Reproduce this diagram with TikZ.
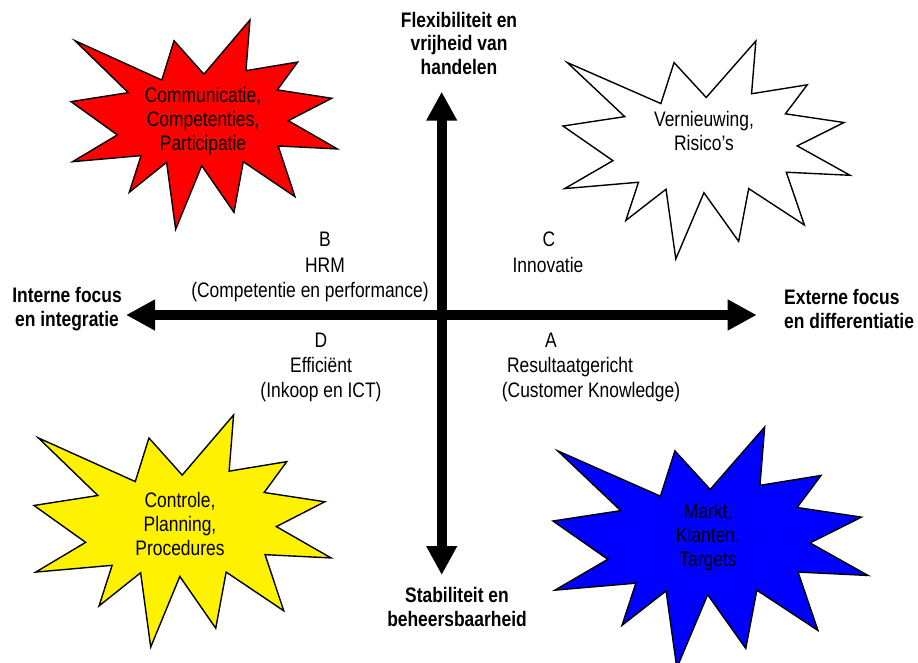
\documentclass[tikz,border=0pt]{standalone}
\usepackage{fontspec}
\setmainfont[FakeStretch=0.83]{Liberation Sans}
\usetikzlibrary{arrows.meta}
\tikzset{
  burst/.pic={\path[pic actions] (0.015,0.099) -- (0.341,0.287) -- (0.387,0.099) -- (0.499,0.259) -- (0.672,0) -- (0.657,0.242) -- (0.851,0.201) -- (0.775,0.334) -- (0.979,0.374) -- (0.816,0.481) -- (1,0.616) -- (0.778,0.602) -- (0.841,0.844) -- (0.647,0.677) -- (0.612,0.919) -- (0.491,0.696) -- (0.393,1) -- (0.359,0.680) -- (0.219,0.823) -- (0.263,0.648) -- (0.006,0.677) -- (0.174,0.549) -- (0,0.390) -- (0.215,0.347) -- cycle;},
  star/.style={draw=black, line width=1.4pt, line join=miter},
  startext/.style={align=center, inner sep=0pt, font=\fontsize{21}{24}\selectfont},
  axislabel/.style={align=center, inner sep=0pt, font=\fontsize{21}{23.5}\selectfont\bfseries},
  qlabel/.style={inner sep=0pt, anchor=base, font=\fontsize{21}{24}\selectfont},
  axis/.style={line width=10pt, {Triangle[length=29pt,width=29pt]}-{Triangle[length=29pt,width=29pt]}}
}
\begin{document}
\begin{tikzpicture}[x=1pt,y=-1pt]
\useasboundingbox (0,0) rectangle (918,663);
% starbursts
\pic[star, fill=red, xscale=266.3, yscale=209.3] (redburst) at (71,20) {burst};
\pic[star, fill=white, xscale=287, yscale=218] (whiteburst) at (563,41) {burst};
\pic[star, fill=yellow, xscale=297, yscale=232] (yellowburst) at (34,415) {burst};
\pic[star, fill=blue, xscale=315, yscale=241] (blueburst) at (553,427) {burst};
\node[startext] (redtxt) at (203,121) {Communicatie,\\Competenties,\\Participatie};
\node[startext] (whitetxt) at (704,131) {Vernieuwing,\\Risico’s};
\node[startext] (yellowtxt) at (180,524) {Controle,\\Planning,\\Procedures};
\node[startext] (bluetxt) at (708,537) {Markt,\\Klanten,\\Targets};
% axes
\coordinate (T) at (441.7,91.7);
\coordinate (B) at (441.7,575);
\coordinate (L) at (126,315);
\coordinate (R) at (756.7,315);
\draw[axis] (T) -- (B);
\draw[axis] (L) -- (R);
% axis labels
\node[axislabel] (top) at (459,43) {Flexibiliteit en\\vrijheid van\\handelen};
\node[axislabel] (bottom) at (457,607) {Stabiliteit en\\beheersbaarheid};
\node[axislabel] (left) at (67,309) {Interne focus\\en integratie};
\node[axislabel, anchor=west, align=left] (right) at (784,309) {Externe focus\\en differentiatie};
% quadrant labels
\node[qlabel] (b1) at (325,247) {B};
\node[qlabel] (b2) at (325,272) {HRM};
\node[qlabel] (b3) at (310,297) {(Competentie en performance)};
\node[qlabel] (c1) at (549,247) {C};
\node[qlabel] (c2) at (548,272) {Innovatie};
\node[qlabel] (d1) at (321,347) {D};
\node[qlabel] (d2) at (321,372) {Efficiënt};
\node[qlabel] (d3) at (321,397) {(Inkoop en ICT)};
\node[qlabel] (a1) at (551,347) {A};
\node[qlabel] (a2) at (570,372) {Resultaatgericht};
\node[qlabel] (a3) at (591,397) {(Customer Knowledge)};
\end{tikzpicture}
\end{document}
